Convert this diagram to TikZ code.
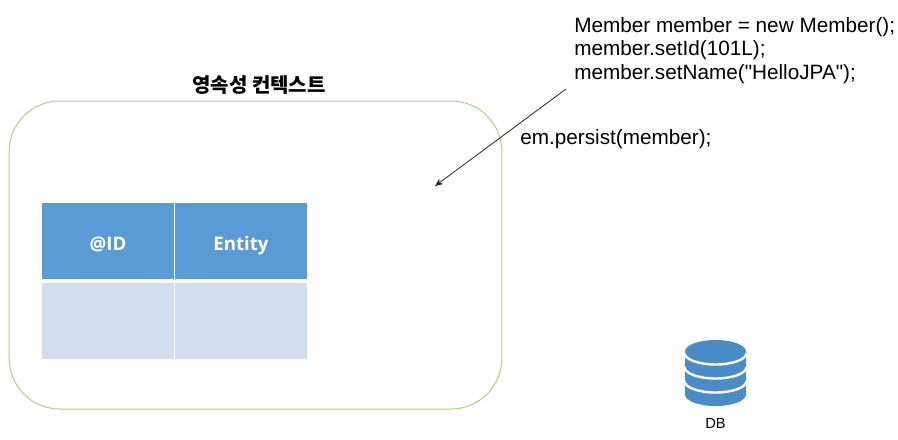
\documentclass[tikz,border=0pt]{standalone}
\usepackage{fontspec}
\setmainfont{Liberation Sans}
\newfontfamily\codefont[Ligatures=ResetAll]{Liberation Sans}
\newfontfamily\krfont{Noto Sans CJK KR}
\newfontfamily\headfont{Open Sans}
\usetikzlibrary{positioning, arrows.meta}
\definecolor{headblue}{HTML}{5B9BD5}
\definecolor{rowblue}{HTML}{D2DEEF}
\definecolor{ctxgreen}{HTML}{A9D18E}
\definecolor{dbblue}{HTML}{4A8CC8}

\tikzset{
	cell/.style={inner sep=0pt, minimum width=99pt, minimum height=57pt},
	headcell/.style={cell, fill=headblue, text=white, text height=13.5pt, text depth=0pt, font=\headfont\bfseries\fontsize{14}{15}\selectfont},
	rowcell/.style={cell, fill=rowblue},
	code/.style={inner sep=0pt, align=left, font=\codefont\fontsize{15.55}{17.7}\selectfont},
	dbline/.style={draw=white, line width=1.8pt}
}

\begin{document}
\begin{tikzpicture}
	[x=0.75pt, y=-0.75pt, on grid]
   \useasboundingbox (0,0) rectangle (898,439);
   \node[draw=ctxgreen, line width=0.75pt, rounded corners=38pt, minimum width=369.5pt, minimum height=231pt, inner sep=0pt] (context) at (255.5,255) {};
   \node[inner sep=0pt, font=\krfont\bfseries\fontsize{15}{17}\selectfont] (title) at (259,85) {영속성 컨텍스트};
   % table
   \node[headcell] (id) at (108,241) {@ID};
   \node[headcell] (entity) at (241,241) {Entity};
   \node[rowcell] (idrow) at (108,320.5) {};
   \node[rowcell] (entityrow) at (241,320.5) {};
   % code
   \node[code, anchor=north west] (newmember) at (574,17) {Member member = new Member();\\member.setId(101L);\\member.setName("HelloJPA");};
   \node[code, anchor=west] (persist) at (520,139.5) {em.persist(member);};
   \coordinate (from) at (566,89);
   \coordinate (to) at (435,186);
   \draw[-{Stealth[length=6pt, width=5pt]}, line width=0.6pt, black!85] (from) -- (to);
   % db
   \fill[dbblue] (685,351.5) arc[start angle=180, end angle=360, x radius=30.5, y radius=11.5] -- (746,394.5) arc[start angle=0, end angle=180, x radius=30.5, y radius=11.5] -- cycle;
   \foreach \y in {353,367,381} {
      \draw[dbline] (684.5,\y) arc[start angle=180, end angle=0, x radius=31, y radius=11.5];
   }
   \node[inner sep=0pt, font=\fontsize{11}{13}\selectfont] (db) at (715.5,423) {DB};
\end{tikzpicture}
\end{document}
